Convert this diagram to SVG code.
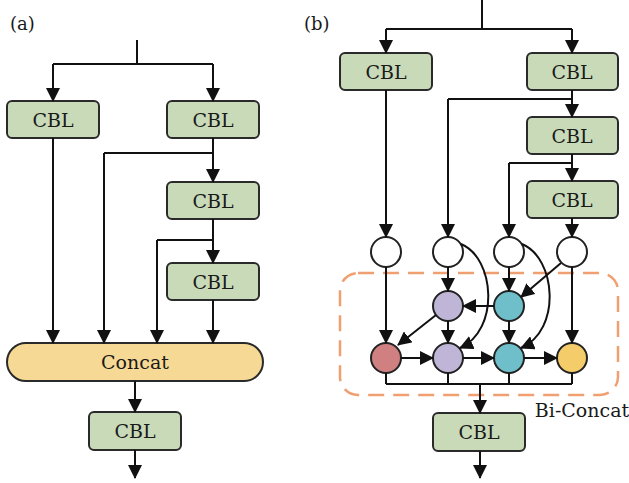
<svg xmlns="http://www.w3.org/2000/svg" width="629" height="483" viewBox="0 0 629 483">
<defs>
<marker id="ah" markerUnits="userSpaceOnUse" markerWidth="14" markerHeight="14" viewBox="0 0 14 14" refX="13" refY="7" orient="auto">
<path d="M0,0 L14,7 L0,14 Z" fill="#111"/>
</marker>
<style>
.cbl rect{fill:#c9dab9;stroke:#2a2a2a;stroke-width:2}
.t{font-family:"DejaVu Serif","Liberation Serif",serif;font-size:19px;fill:#1a1a1a;text-anchor:middle}
.lbl{font-family:"DejaVu Serif","Liberation Serif",serif;font-size:18px;fill:#1a1a1a}
.e{fill:none;stroke:#111;stroke-width:2}
.a{fill:none;stroke:#111;stroke-width:2;marker-end:url(#ah)}
.n{stroke:#222;stroke-width:2}
</style>
</defs>
<rect width="629" height="483" fill="#fff"/>
<text class="lbl" x="10" y="30">(a)</text>
<text class="lbl" x="304" y="30">(b)</text>

<!-- panel a nodes -->
<g id="a_cbl1" class="cbl"><rect x="7" y="101" width="92" height="37" rx="5"/><text class="t" x="53" y="126.5">CBL</text></g>
<g id="a_cbl2" class="cbl"><rect x="167" y="101" width="92" height="37" rx="5"/><text class="t" x="213" y="126.5">CBL</text></g>
<g id="a_cbl3" class="cbl"><rect x="167" y="182" width="92" height="37" rx="5"/><text class="t" x="213" y="207.5">CBL</text></g>
<g id="a_cbl4" class="cbl"><rect x="167" y="263" width="92" height="37" rx="5"/><text class="t" x="213" y="288.5">CBL</text></g>
<g id="a_concat"><rect x="7" y="343" width="256" height="38" rx="19" fill="#f6d994" stroke="#2a2a2a" stroke-width="2"/><text class="t" x="135" y="369">Concat</text></g>
<g id="a_cbl5" class="cbl"><rect x="89" y="412" width="92" height="38" rx="5"/><text class="t" x="135" y="438">CBL</text></g>

<!-- panel b nodes -->
<g id="b_cbl1" class="cbl"><rect x="340" y="53" width="92" height="37" rx="5"/><text class="t" x="386" y="78.5">CBL</text></g>
<g id="b_cbl2" class="cbl"><rect x="527" y="53" width="91" height="37" rx="5"/><text class="t" x="572" y="78.5">CBL</text></g>
<g id="b_cbl3" class="cbl"><rect x="527" y="117" width="91" height="37" rx="5"/><text class="t" x="572" y="142.5">CBL</text></g>
<g id="b_cbl4" class="cbl"><rect x="527" y="181" width="91" height="37" rx="5"/><text class="t" x="572" y="206.5">CBL</text></g>
<g id="b_cbl5" class="cbl"><rect x="433" y="413" width="92" height="38" rx="5"/><text class="t" x="479" y="439">CBL</text></g>

<g id="bi_concat">
<rect x="340" y="273" width="278" height="122" rx="18" fill="none" stroke="#f0a070" stroke-width="2.5" stroke-dasharray="16,9"/>
<text class="t" x="582" y="417">Bi-Concat</text>
</g>

<g id="p1"><circle class="n" cx="386" cy="252" r="15" fill="#fff"/></g>
<g id="p2"><circle class="n" cx="448" cy="252" r="15" fill="#fff"/></g>
<g id="p3"><circle class="n" cx="509" cy="252" r="15" fill="#fff"/></g>
<g id="p4"><circle class="n" cx="572" cy="252" r="15" fill="#fff"/></g>
<g id="m2"><circle class="n" cx="448" cy="306" r="15" fill="#bfb5d6"/></g>
<g id="m3"><circle class="n" cx="509" cy="306" r="15" fill="#6fbfcb"/></g>
<g id="o1"><circle class="n" cx="386" cy="358" r="15" fill="#d08080"/></g>
<g id="o2"><circle class="n" cx="448" cy="358" r="15" fill="#bfb5d6"/></g>
<g id="o3"><circle class="n" cx="509" cy="358" r="15" fill="#6fbfcb"/></g>
<g id="o4"><circle class="n" cx="572" cy="358" r="15" fill="#f4cc6a"/></g>

<g id="connectors">
<!-- panel a -->
<path class="e" d="M137,40 V64 M53,64 H213"/>
<path class="a" d="M53,64 V101"/>
<path class="a" d="M213,64 V101"/>
<path class="a" d="M213,138 V182"/>
<path class="e" d="M213,153 H104"/>
<path class="a" d="M104,153 V343"/>
<path class="a" d="M213,219 V263"/>
<path class="e" d="M213,240 H157"/>
<path class="a" d="M157,240 V343"/>
<path class="a" d="M53,138 V343"/>
<path class="a" d="M213,300 V343"/>
<path class="a" d="M135,381 V412"/>
<path class="a" d="M135,450 V478"/>

<!-- panel b -->
<path class="e" d="M482,0 V29 M386,29 H572"/>
<path class="a" d="M386,29 V53"/>
<path class="a" d="M572,29 V53"/>
<path class="a" d="M572,90 V117"/>
<path class="e" d="M572,99 H448"/>
<path class="a" d="M448,99 V237"/>
<path class="a" d="M572,154 V181"/>
<path class="e" d="M572,163 H509"/>
<path class="a" d="M509,163 V237"/>
<path class="a" d="M386,90 V237"/>
<path class="a" d="M572,218 V237"/>

<path class="a" d="M386,267 V343"/>
<path class="a" d="M448,267 V291"/>
<path class="a" d="M509,267 V291"/>
<path class="a" d="M572,267 V343"/>
<path class="a" d="M561,263 L521,297"/>
<path class="a" d="M461,244 C495,258 500,330 460,348"/>
<path class="a" d="M522,244 C556,258 562,330 521,348"/>
<path class="a" d="M494,306 H463"/>
<path class="a" d="M436,315 L398,345"/>
<path class="a" d="M448,321 V343"/>
<path class="a" d="M509,321 V343"/>
<path class="a" d="M401,358 H433"/>
<path class="a" d="M463,358 H494"/>
<path class="a" d="M524,358 H557"/>

<path class="e" d="M386,373 V384 M448,373 V384 M509,373 V384 M572,373 V384 M386,384 H572"/>
<path class="a" d="M480,384 V413"/>
<path class="a" d="M480,451 V478"/>
</g>
</svg>
